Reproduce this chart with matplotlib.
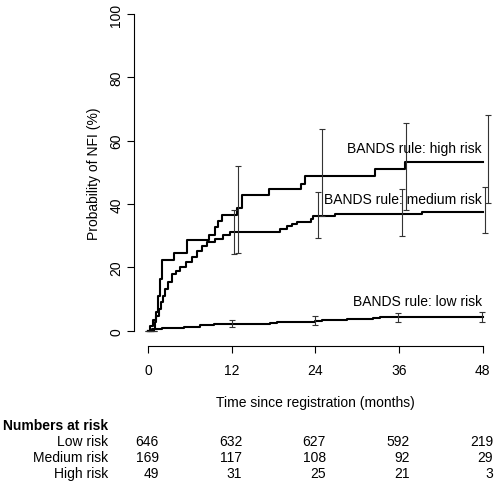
import matplotlib.pyplot as plt
import matplotlib.transforms as mtransforms

plt.rcParams['font.family'] = ['Liberation Sans', 'DejaVu Sans']

# step curves (months, cumulative probability %)
high_t = [0, 0.3, 0.75, 1.1, 1.45, 1.7, 1.95, 3.7, 5.6, 8.8, 9.6, 10.1, 10.6,
          12.7, 13.5, 17.4, 22.0, 22.5, 32.6, 36.9, 48]
high_p = [0, 1.6, 3.5, 5.8, 11, 16.3, 22.3, 24.5, 28.6, 30.3, 32.6, 34.7, 36.6,
          38.6, 42.8, 44.7, 46.3, 48.9, 51.1, 53.4, 53.4]

med_t = [0, 0.5, 1.0, 1.2, 1.5, 1.8, 2.2, 2.5, 2.9, 3.4, 4.0, 4.6, 5.5, 6.3,
         7.0, 7.7, 8.4, 9.6, 10.8, 11.8, 18.9, 19.9, 20.7, 21.3, 23.4, 23.7,
         26.8, 39.3, 48]
med_p = [0, 0.5, 2.7, 4.7, 6.8, 9.2, 11, 13.2, 15.3, 17.9, 18.9, 20, 21.6, 23.2,
         25.3, 26.8, 27.9, 29, 30.2, 31.1, 32.1, 33, 33.7, 34.4, 35.3, 36.1,
         36.8, 37.6, 37.6]

low_t = [0, 0.8, 2.0, 5.1, 7.5, 9.4, 17.5, 18.5, 24.0, 24.9, 28.5, 32.3, 33.3, 48]
low_p = [0, 0.5, 0.85, 1.3, 1.9, 2.2, 2.5, 2.8, 3.1, 3.4, 3.6, 3.9, 4.2, 4.2]

# confidence intervals
high_ci_t = [0.9, 12.9, 24.9, 37.0, 48.8]
high_ci_lo = [0, 24.6, 36.3, 38.1, 40.3]
high_ci_hi = [0, 51.9, 63.7, 65.6, 68.1]
med_ci_t = [0.45, 12.4, 24.4, 36.4, 48.4]
med_ci_lo = [0, 24.2, 29.3, 30.0, 30.8]
med_ci_hi = [0, 38.2, 43.9, 44.7, 45.3]
low_ci_t = [0, 12.0, 23.9, 35.9, 47.9]
low_ci_lo = [0, 1.1, 1.8, 2.7, 2.7]
low_ci_hi = [0, 3.4, 4.5, 5.6, 5.8]

labels = ["BANDS rule: high risk", "BANDS rule: medium risk", "BANDS rule: low risk"]
label_y = [57.7, 41.6, 9.5]

risk_times = [0, 12, 24, 36, 48]
risk_rows = ["Low risk", "Medium risk", "High risk"]
risk_low = [646, 632, 627, 592, 219]
risk_med = [169, 117, 108, 92, 29]
risk_high = [49, 31, 25, 21, 3]

fs = 10

fig = plt.figure(figsize=(4.98, 4.85), dpi=100)
ax = fig.add_axes([0.2697, 0.2852, 0.7271, 0.7146])

for t, p in [(high_t, high_p), (med_t, med_p), (low_t, low_p)]:
    ax.step(t, p, where='post', color='black', lw=1.5)

for t, lo, hi in [(high_ci_t, high_ci_lo, high_ci_hi),
                  (med_ci_t, med_ci_lo, med_ci_hi),
                  (low_ci_t, low_ci_lo, low_ci_hi)]:
    mid = [(a + b) / 2 for a, b in zip(lo, hi)]
    err = [(b - a) / 2 for a, b in zip(lo, hi)]
    ax.errorbar(t, mid, yerr=err, fmt='none', ecolor='#333333',
                elinewidth=0.8, capsize=2.3, capthick=0.8)

for lab, y in zip(labels, label_y):
    ax.text(47.9, y, lab, ha='right', va='center', fontsize=fs)

ax.set_xlim(-1.97, 49.97)
ax.set_ylim(-4.74, 104.7)
ax.set_xticks(risk_times)
ax.set_yticks([0, 20, 40, 60, 80, 100])
for s in ['top', 'right']:
    ax.spines[s].set_visible(False)
ax.spines['left'].set_bounds(0, 100)
ax.spines['bottom'].set_bounds(0, 48)
for s in ['left', 'bottom']:
    ax.spines[s].set_linewidth(0.8)
ax.tick_params(axis='x', length=5, width=0.8, pad=7.5, labelsize=fs)
ax.tick_params(axis='y', length=5, width=0.8, pad=3, labelsize=fs)
for lbl in ax.get_yticklabels():
    lbl.set_rotation(90)
    lbl.set_va('center')
ax.set_ylabel("Probability of NFI (%)", fontsize=fs, labelpad=6)

trans = mtransforms.blended_transform_factory(ax.transData, fig.transFigure)
ax.text(24, 1 - 403 / 485, "Time since registration (months)", transform=trans,
        ha='center', va='center', fontsize=fs)

fig.text(3 / 498, 1 - 426 / 485, "Numbers at risk", ha='left', va='center',
         fontsize=fs, fontweight='bold')
for i, (name, vals) in enumerate(zip(risk_rows, [risk_low, risk_med, risk_high])):
    yy = 1 - (442 + 16 * i) / 485
    fig.text(108 / 498, yy, name, ha='right', va='center', fontsize=fs)
    for t, v in zip(risk_times, vals):
        ax.text(t + 1.5, yy, str(v), transform=trans, ha='right', va='center',
                fontsize=fs)

fig.savefig("out.png", dpi=100)
